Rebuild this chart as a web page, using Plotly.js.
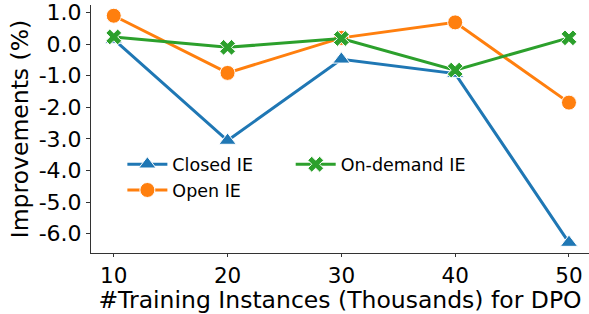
<!DOCTYPE html>
<html>
<head>
<meta charset="utf-8">
<script src="https://cdn.plot.ly/plotly-3.0.1.min.js"></script>
<style>html,body{margin:0;padding:0;background:#fff;}#chart{width:589px;height:314px;}</style>
</head>
<body>
<div id="chart"></div>
<script>
const xValues = [10, 20, 30, 40, 50];
const closedIE = [0.15, -3.05, -0.48, -0.93, -6.28];
const openIE = [0.9, -0.91, 0.2, 0.69, -1.85];
const onDemandIE = [0.23, -0.1, 0.18, -0.82, 0.2];
const yTickVals = [1, 0, -1, -2, -3, -4, -5, -6];
const yTickText = ["1.0", "0.0", "-1.0", "-2.0", "-3.0", "-4.0", "-5.0", "-6.0"];
const xTickVals = [10, 20, 30, 40, 50];
const xTickText = ["10", "20", "30", "40", "50"];

const font = "DejaVu Sans";
function tr(name, y, color, symbol, size, legend) {
  return {
    x: xValues, y: y, name: name, type: 'scatter', mode: 'lines+markers',
    legend: legend,
    line: {color: color, width: 3},
    marker: {color: color, symbol: symbol, size: size, line: {color: '#fff', width: 1}}
  };
}
const data = [
  tr('Closed IE', closedIE, '#1f77b4', 'triangle-up', 15, 'legend'),
  tr('Open IE', openIE, '#ff7f0e', 'circle', 15, 'legend'),
  tr('On-demand IE', onDemandIE, '#2ca02c', 'x', 14, 'legend2')
];
const legendBase = {
  orientation: 'v', y: 0.43, xanchor: 'left', yanchor: 'top',
  font: {size: 17.5, family: font}, bgcolor: 'rgba(0,0,0,0)',
  tracegroupgap: 0, itemwidth: 40, traceorder: 'normal'
};
const layout = {
  width: 589, height: 314,
  margin: {l: 91, r: 0, t: 5, b: 61},
  paper_bgcolor: '#fff', plot_bgcolor: '#fff',
  font: {family: font, color: '#000', size: 22},
  showlegend: true,
  legend: Object.assign({}, legendBase, {x: 0.063}),
  legend2: Object.assign({}, legendBase, {x: 0.401}),
  xaxis: {
    range: [8, 51.76], tickvals: xTickVals, ticktext: xTickText,
    showgrid: false, zeroline: false, showline: true, linecolor: '#333', linewidth: 1,
    ticks: 'outside', ticklen: 3, tickcolor: '#333', tickfont: {size: 21.5},
    title: {text: '#Training Instances (Thousands) for DPO', font: {size: 23.5}, standoff: 4}
  },
  yaxis: {
    range: [-6.61, 1.24], tickvals: yTickVals, ticktext: yTickText,
    showgrid: false, zeroline: false, showline: true, linecolor: '#333', linewidth: 1,
    ticks: 'outside', ticklen: 4, tickcolor: '#333', tickfont: {size: 22},
    title: {text: 'Improvements (%)', font: {size: 23.5}, standoff: 3}
  }
};
Plotly.newPlot('chart', data, layout, {displayModeBar: false, staticPlot: true});
</script>
</body>
</html>
